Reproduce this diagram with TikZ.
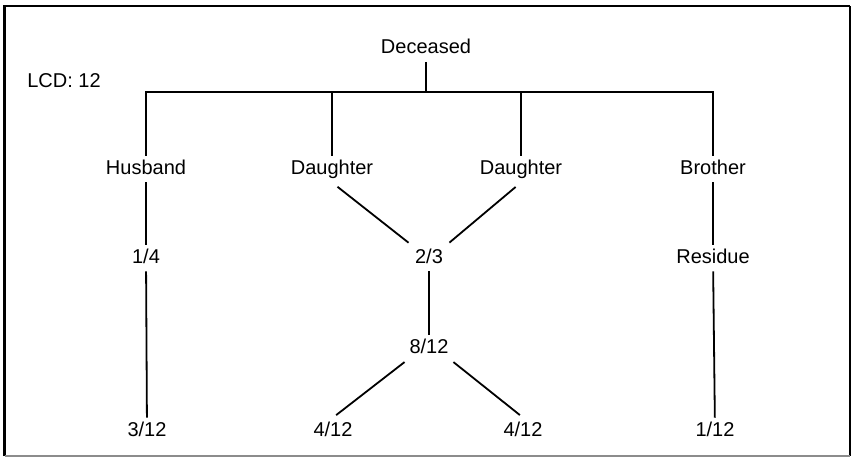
\documentclass[tikz,border=0pt]{standalone}
\usepackage{fontspec}
\setmainfont{Liberation Sans}
\begin{document}
\begin{tikzpicture}[x=1pt,y=-1pt,
  lbl/.style={font=\fontsize{20}{24}\selectfont, text height=14.5pt, text depth=4pt, inner sep=4pt},
  conn/.style={line width=1.8pt},
  frame/.style={line width=2.4pt}]
\useasboundingbox (0,0) rectangle (856,464);
% frame
\coordinate (tl) at (4.5,6);
\coordinate (tr) at (850,6);
\coordinate (bl) at (4.5,456);
\coordinate (br) at (850,456);
\draw[frame] (bl) -- (tl) -- (tr);
\draw[line width=1.6pt] (tr) -- (br);
\draw[line width=1.2pt, black!45] (bl) -- (br);
% labels
\node[lbl] (dec) at (426,48.5) {Deceased};
\node[lbl] (lcd) at (64,82) {LCD: 12};
\node[lbl] (hus) at (146,169) {Husband};
\node[lbl] (d1) at (332,169) {Daughter};
\node[lbl] (d2) at (521,169) {Daughter};
\node[lbl] (bro) at (713,169) {Brother};
\node[lbl] (q1) at (146,258) {1/4};
\node[lbl] (tt) at (429,258) {2/3};
\node[lbl] (res) at (713,258) {Residue};
\node[lbl] (e12) at (429,348) {8/12};
\node[lbl] (h12) at (147,431) {3/12};
\node[lbl] (l12) at (333,431) {4/12};
\node[lbl] (r12) at (523,431) {4/12};
\node[lbl] (b12) at (715,431) {1/12};
\coordinate (bar) at (426,92);
% connectors
\draw[conn] (dec) -- (bar);
\draw[conn] (hus) -- (hus |- bar) -- (bro |- bar) -- (bro);
\draw[conn] (d1) -- (d1 |- bar);
\draw[conn] (d2) -- (d2 |- bar);
\draw[conn] (hus) -- (q1);
\draw[conn] (q1) -- (h12);
\draw[conn] (bro) -- (res);
\draw[conn] (res) -- (b12);
\draw[conn, shorten <=7pt, shorten >=3pt] (d1.south) -- (tt.north west);
\draw[conn, shorten <=7pt, shorten >=3pt] (d2.south) -- (tt.north east);
\draw[conn] (tt) -- (e12);
\draw[conn, shorten <=1pt, shorten >=4pt] (e12.south west) -- (l12.north);
\draw[conn, shorten <=1pt, shorten >=4pt] (e12.south east) -- (r12.north);
\end{tikzpicture}
\end{document}
